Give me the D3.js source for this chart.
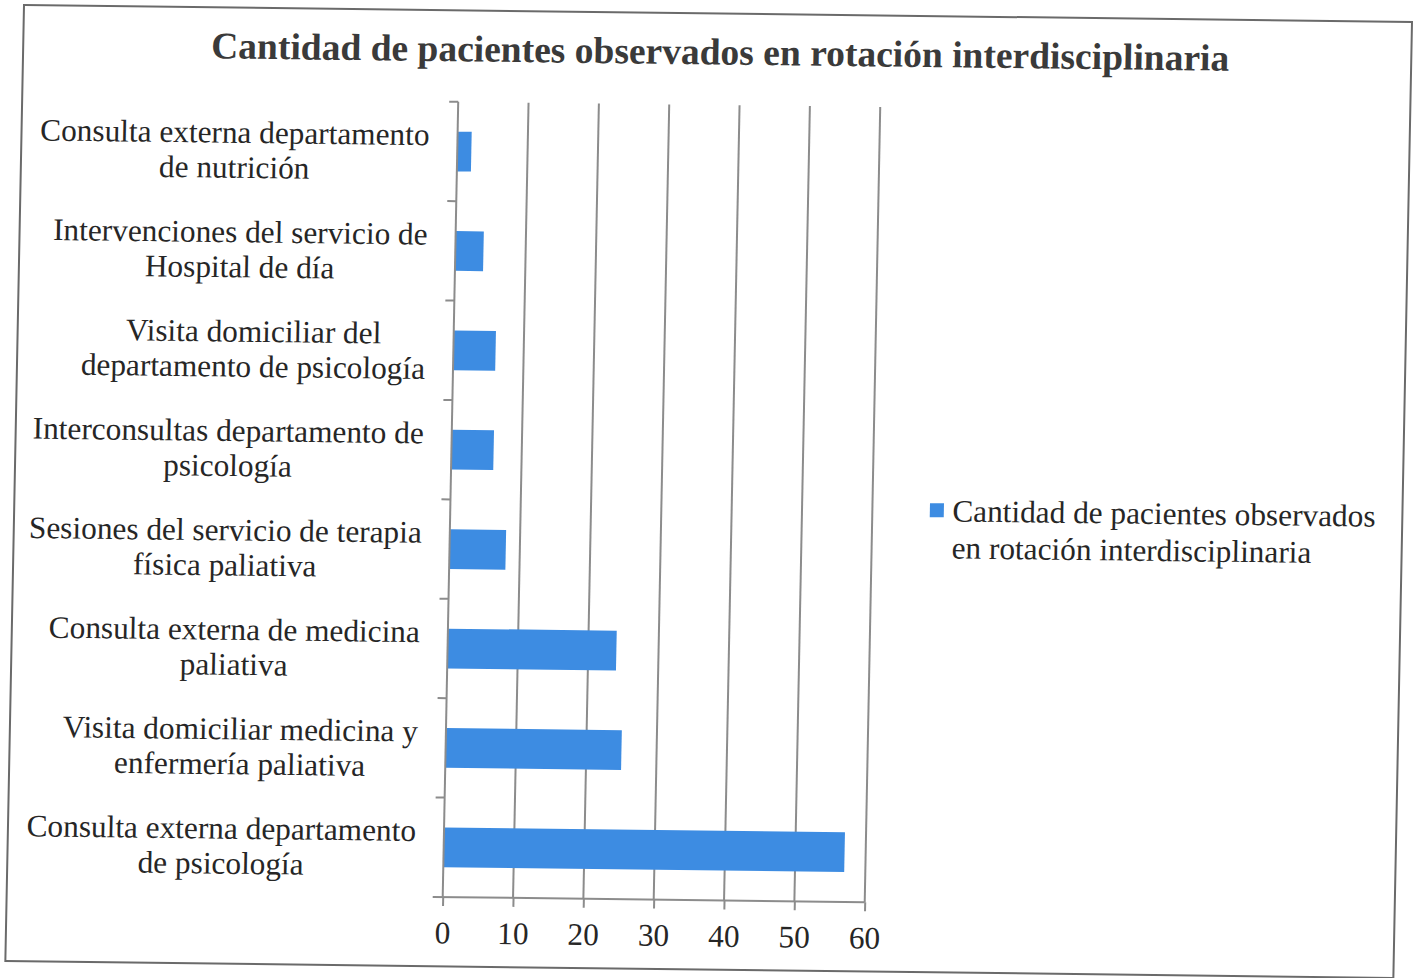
<!DOCTYPE html>
<html>
<head>
<meta charset="utf-8">
<script src="https://cdn.jsdelivr.net/npm/d3@7"></script>
<style>
  html, body { margin: 0; padding: 0; background: #fff; }
  svg { display: block; }
</style>
</head>
<body>
<svg id="chart" width="1416" height="978"></svg>
<script>
// ---- data ----
const chartTitle = "Cantidad de pacientes observados en rotación interdisciplinaria";
const categories = [
  "Consulta externa departamento\nde nutrición",
  "Intervenciones del servicio de\nHospital de día",
  "Visita domiciliar del\ndepartamento de psicología",
  "Interconsultas departamento de\npsicología",
  "Sesiones del servicio de terapia\nfísica paliativa",
  "Consulta externa de medicina\npaliativa",
  "Visita domiciliar medicina y\nenfermería paliativa",
  "Consulta externa departamento\nde psicología"
];
const values = [2, 4, 6, 6, 8, 24, 25, 57];
const xTicks = [0, 10, 20, 30, 40, 50, 60];
const legendLines = ["Cantidad de pacientes observados", "en rotación interdisciplinaria"];

// ---- styles / layout ----
const barColor = "#3d8ce2";
const gridColor = "#8c8c8c";
const textColor = "#262626";
const serif = "'Liberation Serif', 'Times New Roman', serif";
const fs = 31.3;

const svg = d3.select("#chart");
// the scanned page is slightly skewed; apply a small affine skew
const g = svg.append("g").attr("transform", "matrix(1,0.0122,-0.0195,1,0.0975,-0.293)");

// outer frame
g.append("rect")
  .attr("x", 24).attr("y", 5).attr("width", 1388).attr("height", 956)
  .attr("fill", "none").attr("stroke", "#6a6a6a").attr("stroke-width", 2);

// title
g.append("text")
  .attr("x", 721).attr("y", 56)
  .attr("text-anchor", "middle")
  .attr("font-family", serif).attr("font-weight", "bold").attr("font-size", 37.5)
  .attr("fill", "#3a3a3a")
  .text(chartTitle);

const plot = { left: 460, right: 882, top: 96.5, bottom: 891.7 };

const x = d3.scaleLinear().domain([0, 60]).range([plot.left, plot.right]);
const y = d3.scaleBand().domain(d3.range(categories.length))
  .range([plot.top, plot.bottom]).paddingInner(0.6).paddingOuter(0.3);
const yb = d3.scaleBand().domain(d3.range(categories.length))
  .range([plot.top, plot.bottom]);

// gridlines
g.append("g").selectAll("line")
  .data(xTicks.filter(d => d > 0))
  .join("line")
  .attr("x1", d => x(d)).attr("x2", d => x(d))
  .attr("y1", plot.top).attr("y2", plot.bottom)
  .attr("stroke", gridColor).attr("stroke-width", 2);

// bars
g.append("g").selectAll("rect")
  .data(values)
  .join("rect")
  .attr("x", x(0))
  .attr("y", (d, i) => y(i))
  .attr("width", d => x(d) - x(0))
  .attr("height", y.bandwidth())
  .attr("fill", barColor);

// x axis
const xAxis = g.append("g")
  .attr("transform", `translate(0,${plot.bottom})`)
  .call(d3.axisBottom(x).tickValues(xTicks).tickSize(9).tickPadding(15));
xAxis.select(".domain").attr("stroke", gridColor).attr("stroke-width", 2)
  .attr("d", `M${plot.left - 10},0H${plot.right}`);
xAxis.selectAll(".tick line").attr("stroke", gridColor).attr("stroke-width", 2);
xAxis.selectAll(".tick text")
  .attr("font-family", serif).attr("font-size", fs).attr("fill", textColor);

// y axis line + ticks at band boundaries
g.append("line")
  .attr("x1", plot.left).attr("x2", plot.left)
  .attr("y1", plot.top).attr("y2", plot.bottom)
  .attr("stroke", gridColor).attr("stroke-width", 2);
g.append("g").selectAll("line")
  .data(d3.range(categories.length))
  .join("line")
  .attr("x1", plot.left - 9).attr("x2", plot.left)
  .attr("y1", i => yb(i)).attr("y2", i => yb(i))
  .attr("stroke", gridColor).attr("stroke-width", 2);

// category labels (wrapped, centred, block right-aligned)
const labelRight = 432;
const lineH = 35;
categories.forEach((cat, i) => {
  const lines = cat.split("\n");
  const cy = yb(i) + yb.bandwidth() / 2;
  const t = g.append("text")
    .attr("font-family", serif).attr("font-size", fs).attr("fill", textColor)
    .attr("text-anchor", "middle");
  const tspans = lines.map((ln, k) => t.append("tspan")
    .attr("y", cy + (k - (lines.length - 1) / 2) * lineH + 11.5)
    .text(ln));
  const maxW = d3.max(tspans, s => s.node().getComputedTextLength());
  tspans.forEach(s => s.attr("x", labelRight - maxW / 2));
});

// legend
const leg = g.append("g");
leg.append("rect")
  .attr("x", 939.5).attr("y", 492).attr("width", 14).attr("height", 14)
  .attr("fill", barColor);
const legText = leg.append("text")
  .attr("font-family", serif).attr("font-size", fs).attr("fill", textColor);
legendLines.forEach((ln, k) => {
  legText.append("tspan")
    .attr("x", 962).attr("y", 510 + k * 37)
    .text(ln);
});
</script>
</body>
</html>
